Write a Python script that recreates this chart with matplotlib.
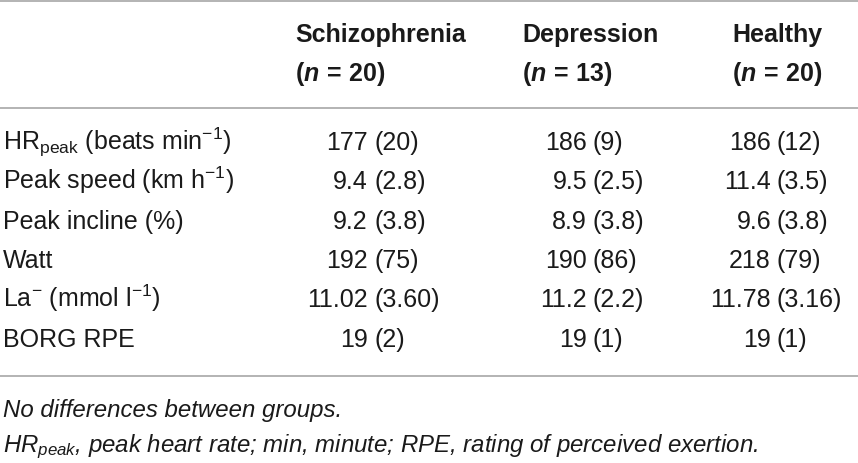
import matplotlib
matplotlib.use("Agg")
import matplotlib.pyplot as plt

plt.rcParams['font.family'] = ['Liberation Sans', 'DejaVu Sans']
plt.rcParams['mathtext.fontset'] = 'custom'
plt.rcParams['mathtext.rm'] = 'Liberation Sans'
plt.rcParams['mathtext.it'] = 'Liberation Sans:italic'
plt.rcParams['mathtext.bf'] = 'Liberation Sans:bold'
plt.rcParams['mathtext.bfit'] = 'Liberation Sans:italic:bold'

# table content
groups = ["Schizophrenia", "Depression", "Healthy"]
group_n = [20, 13, 20]
row_labels = [r"HR$_{\mathrm{peak}}$ (beats min$^{-1}$)",
              r"Peak speed (km h$^{-1}$)",
              "Peak incline (%)",
              "Watt",
              r"La$^{-}$ (mmol l$^{-1}$)",
              "BORG RPE"]
schizophrenia_mean = ["177", "9.4", "9.2", "192", "11.02", "19"]
schizophrenia_sd = ["20", "2.8", "3.8", "75", "3.60", "2"]
depression_mean = ["186", "9.5", "8.9", "190", "11.2", "19"]
depression_sd = ["9", "2.5", "3.8", "86", "2.2", "1"]
healthy_mean = ["186", "11.4", "9.6", "218", "11.78", "19"]
healthy_sd = ["12", "3.5", "3.8", "79", "3.16", "1"]
notes = ["No differences between groups.",
         r"$\mathit{HR}_{\mathit{peak}}$, peak heart rate; min, minute; RPE, rating of perceived exertion."]

means = [schizophrenia_mean, depression_mean, healthy_mean]
sds = [schizophrenia_sd, depression_sd, healthy_sd]

W, H = 858, 463
fig = plt.figure(figsize=(W / 100, H / 100), dpi=100)
ax = fig.add_axes([0, 0, 1, 1])
ax.set_xlim(0, W)
ax.set_ylim(H, 0)
ax.axis("off")

txt = "#1a1a1a"
line_col = "#b3b3b3"
fs = 18

# rules
for y in [1, 108, 376]:
    ax.axhline(y, color=line_col, lw=1.4)

# header
head_x = [295, 522, 732]
for x, g, n in zip(head_x, groups, group_n):
    ax.text(x, 42, g, fontsize=18, fontweight="bold", color=txt, va="baseline")
    ax.text(x, 81, r"$\mathbf{(}\mathbfit{n}\mathbf{\,{=}\,%d)}$" % n,
            fontsize=18, color=txt, va="baseline")

# body
row_y = [150, 189, 229, 268, 307, 347]
paren_x = [374, 593, 777]
for i, lab in enumerate(row_labels):
    ax.text(3, row_y[i], lab, fontsize=fs, color=txt, va="baseline")
    for j in range(3):
        ax.text(paren_x[j] - 6, row_y[i], means[j][i], fontsize=fs, color=txt,
                va="baseline", ha="right")
        ax.text(paren_x[j], row_y[i], "(" + sds[j][i] + ")", fontsize=fs,
                color=txt, va="baseline", ha="left")

# footnotes
ax.text(3, 417, notes[0], fontsize=17.3, style="italic", color=txt, va="baseline")
ax.text(3, 452, notes[1], fontsize=17.3, style="italic", color=txt, va="baseline")

fig.savefig("out.png", dpi=100)
